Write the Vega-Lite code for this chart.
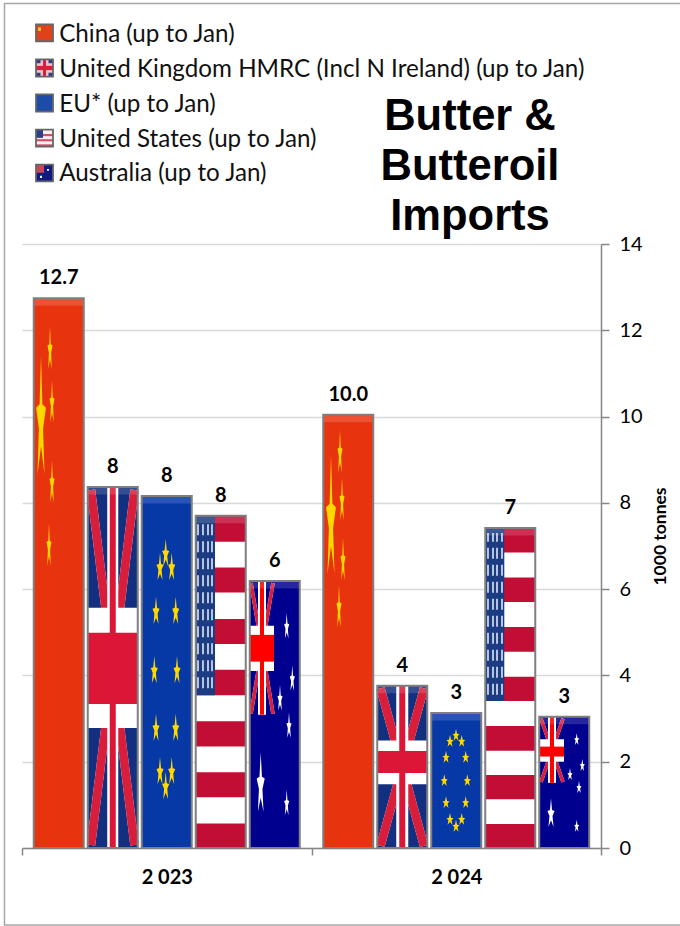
{
"$schema":"https://vega.github.io/schema/vega-lite/v6.json",
"width":579,"height":604,
"autosize":{"type":"none"},
"padding":{"left":22,"top":244,"right":79,"bottom":78},
"background":"white",
"config":{"font":"Lato","view":{"stroke":null}},
"title":{"text":["Butter &","Butteroil","Imports"],"font":"Liberation Sans","fontSize":43.5,"fontWeight":"bold","color":"black","lineHeight":50,"anchor":"start","frame":"group","align":"center","dx":448,"offset":-237},
"datasets":{
"bars":[
{"year":"2 023","country":"China (up to Jan)","value":12.74,"label":"12.7"},
{"year":"2 023","country":"United Kingdom HMRC (Incl N Ireland) (up to Jan)","value":8.37,"label":"8"},
{"year":"2 023","country":"EU* (up to Jan)","value":8.16,"label":"8"},
{"year":"2 023","country":"United States (up to Jan)","value":7.7,"label":"8"},
{"year":"2 023","country":"Australia (up to Jan)","value":6.19,"label":"6"},
{"year":"2 024","country":"China (up to Jan)","value":10.04,"label":"10.0"},
{"year":"2 024","country":"United Kingdom HMRC (Incl N Ireland) (up to Jan)","value":3.76,"label":"4"},
{"year":"2 024","country":"EU* (up to Jan)","value":3.13,"label":"3"},
{"year":"2 024","country":"United States (up to Jan)","value":7.42,"label":"7"},
{"year":"2 024","country":"Australia (up to Jan)","value":3.04,"label":"3"}
],
"frame":[{"p0":-0.175,"p1":6.6,"v0":19.575,"v1":-1.785}],
"miniFrames":[
{"p0":0.14,"p1":0.31,"v0":19.09,"v1":18.7},
{"p0":0.14,"p1":0.31,"v0":18.28,"v1":17.88},
{"p0":0.14,"p1":0.31,"v0":17.47,"v1":17.07},
{"p0":0.14,"p1":0.31,"v0":16.65,"v1":16.26},
{"p0":0.14,"p1":0.31,"v0":15.84,"v1":15.45}
],
"miniFlags":[
{"p0":0.14,"p1":0.31,"v0":19.09,"v1":18.7,"paint":"china"},
{"p0":0.16,"p1":0.19,"v0":19.02,"v1":18.94,"paint":"gold"},
{"p0":0.14,"p1":0.31,"v0":18.28,"v1":17.88,"paint":"ukPale"},
{"p0":0.14,"p1":0.185,"v0":18.28,"v1":18.19,"paint":"ukNavy"},
{"p0":0.265,"p1":0.31,"v0":18.28,"v1":18.19,"paint":"ukNavy"},
{"p0":0.14,"p1":0.185,"v0":17.97,"v1":17.88,"paint":"ukNavy"},
{"p0":0.265,"p1":0.31,"v0":17.97,"v1":17.88,"paint":"ukNavy"},
{"p0":0.14,"p1":0.31,"v0":18.13,"v1":18.03,"paint":"ukRed"},
{"p0":0.21,"p1":0.24,"v0":18.28,"v1":17.88,"paint":"ukRed"},
{"p0":0.14,"p1":0.31,"v0":17.47,"v1":17.07,"paint":"eu"},
{"p0":0.14,"p1":0.31,"v0":16.65,"v1":16.26,"paint":"white"},
{"p0":0.14,"p1":0.31,"v0":16.31,"v1":16.26,"paint":"usRed"},
{"p0":0.14,"p1":0.31,"v0":16.43,"v1":16.38,"paint":"usRed"},
{"p0":0.14,"p1":0.31,"v0":16.55,"v1":16.5,"paint":"usRed"},
{"p0":0.14,"p1":0.21,"v0":16.65,"v1":16.46,"paint":"ukNavy"},
{"p0":0.14,"p1":0.31,"v0":15.84,"v1":15.45,"paint":"auNavy"},
{"p0":0.14,"p1":0.22,"v0":15.84,"v1":15.65,"paint":"auPink"},
{"p0":0.25,"p1":0.27,"v0":15.74,"v1":15.7,"paint":"white"},
{"p0":0.18,"p1":0.2,"v0":15.58,"v1":15.53,"paint":"white"}
],
"stripes":[
{"p0":1.7375,"p1":2.2375,"v0":0.57,"v1":1.175,"paint":"white"},
{"p0":1.7375,"p1":2.2375,"v0":1.755,"v1":2.35,"paint":"white"},
{"p0":1.7375,"p1":2.2375,"v0":2.94,"v1":3.54,"paint":"white"},
{"p0":1.7375,"p1":2.2375,"v0":4.13,"v1":4.73,"paint":"white"},
{"p0":1.7375,"p1":2.2375,"v0":5.31,"v1":5.92,"paint":"white"},
{"p0":1.7375,"p1":2.2375,"v0":6.5,"v1":7.1,"paint":"white"},
{"p0":1.7375,"p1":1.93,"v0":3.54,"v1":7.7,"paint":"canton"},
{"p0":4.6325,"p1":5.1325,"v0":0.556,"v1":1.13,"paint":"white"},
{"p0":4.6325,"p1":5.1325,"v0":1.69,"v1":2.255,"paint":"white"},
{"p0":4.6325,"p1":5.1325,"v0":2.83,"v1":3.41,"paint":"white"},
{"p0":4.6325,"p1":5.1325,"v0":3.97,"v1":4.55,"paint":"white"},
{"p0":4.6325,"p1":5.1325,"v0":5.12,"v1":5.7,"paint":"white"},
{"p0":4.6325,"p1":5.1325,"v0":6.27,"v1":6.85,"paint":"white"},
{"p0":4.6325,"p1":4.823,"v0":3.41,"v1":7.42,"paint":"canton"}
],
"diagonals":[
{"p0":0.69,"p1":0.9075,"v0":8.3,"v1":4.18,"kind":"uk"},
{"p0":1.125,"p1":0.9075,"v0":8.3,"v1":4.18,"kind":"uk"},
{"p0":0.69,"p1":0.9075,"v0":0.07,"v1":4.18,"kind":"uk"},
{"p0":1.125,"p1":0.9075,"v0":0.07,"v1":4.18,"kind":"uk"},
{"p0":3.585,"p1":3.8025,"v0":3.7,"v1":1.88,"kind":"uk"},
{"p0":4.02,"p1":3.8025,"v0":3.7,"v1":1.88,"kind":"uk"},
{"p0":3.585,"p1":3.8025,"v0":0.05,"v1":1.88,"kind":"uk"},
{"p0":4.02,"p1":3.8025,"v0":0.05,"v1":1.88,"kind":"uk"},
{"p0":2.29,"p1":2.4,"v0":6.14,"v1":4.64,"kind":"au"},
{"p0":2.51,"p1":2.4,"v0":6.14,"v1":4.64,"kind":"au"},
{"p0":2.29,"p1":2.4,"v0":3.11,"v1":4.64,"kind":"au"},
{"p0":2.51,"p1":2.4,"v0":3.11,"v1":4.64,"kind":"au"},
{"p0":5.19,"p1":5.3,"v0":3.0,"v1":2.26,"kind":"au"},
{"p0":5.41,"p1":5.3,"v0":3.0,"v1":2.26,"kind":"au"},
{"p0":5.19,"p1":5.3,"v0":1.53,"v1":2.26,"kind":"au"},
{"p0":5.41,"p1":5.3,"v0":1.53,"v1":2.26,"kind":"au"}
],
"crosses":[
{"p0":0.8525,"p1":0.9625,"v0":0,"v1":8.37,"paint":"white"},
{"p0":0.6575,"p1":1.1575,"v0":2.78,"v1":5.57,"paint":"white"},
{"p0":0.8775,"p1":0.9375,"v0":0,"v1":8.37,"paint":"ukRed"},
{"p0":0.6575,"p1":1.1575,"v0":3.34,"v1":4.99,"paint":"ukRed"},
{"p0":3.7425,"p1":3.8625,"v0":0,"v1":3.76,"paint":"white"},
{"p0":3.5525,"p1":4.0525,"v0":1.48,"v1":2.49,"paint":"white"},
{"p0":3.7725,"p1":3.8325,"v0":0,"v1":3.76,"paint":"ukRed"},
{"p0":3.5525,"p1":4.0525,"v0":1.74,"v1":2.25,"paint":"ukRed"},
{"p0":2.36,"p1":2.44,"v0":3.09,"v1":6.19,"paint":"white"},
{"p0":2.2775,"p1":2.52,"v0":4.1,"v1":5.15,"paint":"white"},
{"p0":2.38,"p1":2.42,"v0":3.09,"v1":6.19,"paint":"auRed"},
{"p0":2.2775,"p1":2.52,"v0":4.32,"v1":4.94,"paint":"auRed"},
{"p0":5.26,"p1":5.34,"v0":1.51,"v1":3.04,"paint":"white"},
{"p0":5.1725,"p1":5.42,"v0":2.0,"v1":2.52,"paint":"white"},
{"p0":5.28,"p1":5.32,"v0":1.51,"v1":3.04,"paint":"auRed"},
{"p0":5.1725,"p1":5.42,"v0":2.12,"v1":2.35,"paint":"auRed"}
],
"usStars":[
{"p":1.76,"v0":3.7,"v1":7.6},{"p":1.81,"v0":3.7,"v1":7.6},{"p":1.86,"v0":3.7,"v1":7.6},{"p":1.9,"v0":3.7,"v1":7.6},
{"p":4.66,"v0":3.55,"v1":7.3},{"p":4.71,"v0":3.55,"v1":7.3},{"p":4.75,"v0":3.55,"v1":7.3},{"p":4.8,"v0":3.55,"v1":7.3}
],
"stars":[
{"p":0.19,"v":9.8,"star":"chinaBig","paint":"gold"},
{"p":0.28,"v":11.5,"star":"chinaSmall","paint":"gold"},
{"p":0.3,"v":10.27,"star":"chinaSmall","paint":"gold"},
{"p":0.3,"v":8.41,"star":"chinaSmall","paint":"gold"},
{"p":0.27,"v":6.95,"star":"chinaSmall","paint":"gold"},
{"p":3.09,"v":7.49,"star":"chinaBig","paint":"gold"},
{"p":3.18,"v":9.11,"star":"chinaSmall","paint":"gold"},
{"p":3.2,"v":8.0,"star":"chinaSmall","paint":"gold"},
{"p":3.21,"v":6.61,"star":"chinaSmall","paint":"gold"},
{"p":3.17,"v":5.52,"star":"chinaSmall","paint":"gold"},
{"p":1.437,"v":6.79,"star":"euTall","paint":"gold"},
{"p":1.38,"v":6.47,"star":"euTall","paint":"gold"},
{"p":1.497,"v":6.47,"star":"euTall","paint":"gold"},
{"p":1.34,"v":5.45,"star":"euTall","paint":"gold"},
{"p":1.537,"v":5.45,"star":"euTall","paint":"gold"},
{"p":1.323,"v":4.08,"star":"euTall","paint":"gold"},
{"p":1.55,"v":4.08,"star":"euTall","paint":"gold"},
{"p":1.34,"v":2.74,"star":"euTall","paint":"gold"},
{"p":1.537,"v":2.74,"star":"euTall","paint":"gold"},
{"p":1.38,"v":1.74,"star":"euTall","paint":"gold"},
{"p":1.497,"v":1.74,"star":"euTall","paint":"gold"},
{"p":1.437,"v":1.39,"star":"euTall","paint":"gold"},
{"p":4.34,"v":2.6,"star":"euShort","paint":"gold"},
{"p":4.28,"v":2.46,"star":"euShort","paint":"gold"},
{"p":4.397,"v":2.46,"star":"euShort","paint":"gold"},
{"p":4.24,"v":2.09,"star":"euShort","paint":"gold"},
{"p":4.437,"v":2.09,"star":"euShort","paint":"gold"},
{"p":4.223,"v":1.55,"star":"euShort","paint":"gold"},
{"p":4.453,"v":1.55,"star":"euShort","paint":"gold"},
{"p":4.24,"v":1.04,"star":"euShort","paint":"gold"},
{"p":4.437,"v":1.04,"star":"euShort","paint":"gold"},
{"p":4.28,"v":0.65,"star":"euShort","paint":"gold"},
{"p":4.397,"v":0.65,"star":"euShort","paint":"gold"},
{"p":4.34,"v":0.49,"star":"euShort","paint":"gold"},
{"p":2.387,"v":1.41,"star":"auBigTall","paint":"white"},
{"p":2.647,"v":5.1,"star":"auTall","paint":"white"},
{"p":2.703,"v":3.89,"star":"auTall","paint":"white"},
{"p":2.58,"v":3.43,"star":"auTall","paint":"white"},
{"p":2.67,"v":2.8,"star":"auTall","paint":"white"},
{"p":2.647,"v":1.0,"star":"auTall","paint":"white"},
{"p":5.29,"v":0.76,"star":"auBigShort","paint":"white"},
{"p":5.547,"v":2.5,"star":"auShort","paint":"white"},
{"p":5.603,"v":1.9,"star":"auShort","paint":"white"},
{"p":5.48,"v":1.69,"star":"auShort","paint":"white"},
{"p":5.57,"v":1.39,"star":"auShort","paint":"white"},
{"p":5.547,"v":0.49,"star":"auShort","paint":"white"}
]
},
"resolve":{"scale":{"x":"independent","color":"independent"},"axis":{"x":"independent","y":"independent"}},
"layer":[
{"data":{"name":"bars"},
 "mark":{"type":"bar"},
 "encoding":{
  "x":{"field":"year","type":"nominal","scale":{"paddingInner":0,"paddingOuter":0},"axis":{"title":null,"labelAngle":0,"labelFont":"Lato","labelFontSize":20,"labelFontWeight":"bold","labelColor":"black","labelPadding":12,"domainColor":"#868686","domainWidth":1.5,"tickColor":"#868686","tickSize":7,"tickWidth":1.5,"tickBand":"extent","grid":false}},
  "xOffset":{"field":"country","type":"nominal","sort":null,"scale":{"paddingInner":0.074,"paddingOuter":0.2175}},
  "y":{"field":"value","type":"quantitative","stack":null,"scale":{"domain":[0,14],"nice":false,"zero":false},"axis":{"orient":"right","values":[0,2,4,6,8,10,12,14],"title":"1000 tonnes","titleFont":"Lato","titleFontSize":17.5,"titleFontWeight":"bold","titleColor":"black","titleAngle":270,"titlePadding":27,"titleY":292,"labelFont":"Lato","labelFontSize":20,"labelColor":"black","labelPadding":10,"domainColor":"#868686","domainWidth":1.5,"tickColor":"#868686","tickSize":8,"tickWidth":1.5,"gridColor":"#d9d9d9","gridWidth":1.5,"grid":true}},
  "color":{"field":"country","type":"nominal","sort":null,"scale":{"domain":["China (up to Jan)","United Kingdom HMRC (Incl N Ireland) (up to Jan)","EU* (up to Jan)","United States (up to Jan)","Australia (up to Jan)"],"range":["#e8330f","#12307f","#0638a6","#c20e35","#00008e"]},"legend":{"title":null,"orient":"none","legendX":12,"legendY":-221,"symbolType":"square","symbolSize":289,"symbolOpacity":0,"labelFont":"Lato","labelFontSize":24.2,"labelColor":"#111111","labelLimit":600,"labelOffset":1,"rowPadding":9.8}}
 }},
{"data":{"name":"frame"},
 "mark":{"type":"rect","fillOpacity":0,"stroke":"#a6a6a6","strokeWidth":1.5},
 "encoding":{"x":{"field":"p0","type":"quantitative","scale":{"domain":[0,5.79],"nice":false,"zero":false},"axis":null},"x2":{"field":"p1"},"y":{"field":"v0","type":"quantitative","axis":null},"y2":{"field":"v1"}}},
{"data":{"name":"miniFlags"},
 "mark":{"type":"rect"},
 "encoding":{"x":{"field":"p0","type":"quantitative","scale":{"domain":[0,5.79],"nice":false,"zero":false},"axis":null},"x2":{"field":"p1"},"y":{"field":"v0","type":"quantitative","axis":null},"y2":{"field":"v1"},
  "color":{"field":"paint","type":"nominal","scale":{"domain":["china","gold","ukPale","ukNavy","ukRed","eu","white","usRed","auNavy","auPink"],"range":["#e0401c","#f7c51e","#eec3cc","#2a3f8c","#d81e3a","#1d4ba8","#f4f0f2","#d4506a","#101a80","#c9455c"]},"legend":null}}},
{"data":{"name":"miniFrames"},
 "mark":{"type":"rect","fillOpacity":0,"stroke":"#666666","strokeWidth":1.8},
 "encoding":{"x":{"field":"p0","type":"quantitative","scale":{"domain":[0,5.79],"nice":false,"zero":false},"axis":null},"x2":{"field":"p1"},"y":{"field":"v0","type":"quantitative","axis":null},"y2":{"field":"v1"}}},
{"data":{"name":"stripes"},
 "mark":{"type":"rect"},
 "encoding":{"x":{"field":"p0","type":"quantitative","scale":{"domain":[0,5.79],"nice":false,"zero":false},"axis":null},"x2":{"field":"p1"},"y":{"field":"v0","type":"quantitative","axis":null},"y2":{"field":"v1"},
  "color":{"field":"paint","type":"nominal","scale":{"domain":["white","canton"],"range":["#ffffff","#1b3c82"]},"legend":null}}},
{"data":{"name":"diagonals"},
 "mark":{"type":"rule","color":"white"},
 "encoding":{"x":{"field":"p0","type":"quantitative","scale":{"domain":[0,5.79],"nice":false,"zero":false},"axis":null},"x2":{"field":"p1"},"y":{"field":"v0","type":"quantitative","axis":null},"y2":{"field":"v1"},
  "strokeWidth":{"field":"kind","type":"ordinal","scale":{"type":"ordinal","domain":["uk","au"],"range":[8.5,3.5]},"legend":null}}},
{"data":{"name":"diagonals"},
 "mark":{"type":"rule","color":"#d81e3a"},
 "encoding":{"x":{"field":"p0","type":"quantitative","scale":{"domain":[0,5.79],"nice":false,"zero":false},"axis":null},"x2":{"field":"p1"},"y":{"field":"v0","type":"quantitative","axis":null},"y2":{"field":"v1"},
  "strokeWidth":{"field":"kind","type":"ordinal","scale":{"type":"ordinal","domain":["uk","au"],"range":[2.5,1.3]},"legend":null}}},
{"data":{"name":"crosses"},
 "mark":{"type":"rect"},
 "encoding":{"x":{"field":"p0","type":"quantitative","scale":{"domain":[0,5.79],"nice":false,"zero":false},"axis":null},"x2":{"field":"p1"},"y":{"field":"v0","type":"quantitative","axis":null},"y2":{"field":"v1"},
  "color":{"field":"paint","type":"nominal","scale":{"domain":["white","ukRed","auRed"],"range":["#ffffff","#dc1637","#ff0000"]},"legend":null}}},
{"data":{"name":"usStars"},
 "mark":{"type":"rule","color":"#dfe6f2","strokeWidth":1.6,"strokeDash":[11,6]},
 "encoding":{"x":{"field":"p","type":"quantitative","scale":{"domain":[0,5.79],"nice":false,"zero":false},"axis":null},"y":{"field":"v0","type":"quantitative","axis":null},"y2":{"field":"v1"}}},
{"data":{"name":"stars"},
 "mark":{"type":"point","filled":true,"opacity":1},
 "encoding":{"x":{"field":"p","type":"quantitative","scale":{"domain":[0,5.79],"nice":false,"zero":false},"axis":null},"y":{"field":"v","type":"quantitative","axis":null},
  "color":{"field":"paint","type":"nominal","scale":{"domain":["gold","white"],"range":["#ffd800","#ffffff"]},"legend":null},
  "shape":{"field":"star","type":"nominal","legend":null,"scale":{"domain":["chinaBig","chinaSmall","euTall","euShort","auBigTall","auTall","auBigShort","auShort"],"range":[
   "M0,-1L0.02,-0.3L0.07,-0.25L0.03,0.05L0.05,0.7L0,0.3L-0.05,0.7L-0.03,0.05L-0.07,-0.25L-0.02,-0.3Z",
   "M0,-1L0.03,-0.3L0.1,-0.25L0.045,0.05L0.07,0.7L0,0.3L-0.07,0.7L-0.045,0.05L-0.1,-0.25L-0.03,-0.3Z",
   "M0,-1L0.066,-0.3L0.22,-0.25L0.1,0.05L0.154,0.7L0,0.3L-0.154,0.7L-0.1,0.05L-0.22,-0.25L-0.066,-0.3Z",
   "M0,-1L0.15,-0.3L0.5,-0.25L0.225,0.05L0.35,0.7L0,0.3L-0.35,0.7L-0.225,0.05L-0.5,-0.25L-0.15,-0.3Z",
   "M0,-1L0.035,-0.3L0.115,-0.25L0.05,0.05L0.08,0.7L0,0.3L-0.08,0.7L-0.05,0.05L-0.115,-0.25L-0.035,-0.3Z",
   "M0,-1L0.05,-0.3L0.17,-0.25L0.08,0.05L0.12,0.7L0,0.3L-0.12,0.7L-0.08,0.05L-0.17,-0.25L-0.05,-0.3Z",
   "M0,-1L0.06,-0.3L0.21,-0.25L0.09,0.05L0.15,0.7L0,0.3L-0.15,0.7L-0.09,0.05L-0.21,-0.25L-0.06,-0.3Z",
   "M0,-1L0.11,-0.3L0.36,-0.25L0.16,0.05L0.25,0.7L0,0.3L-0.25,0.7L-0.16,0.05L-0.36,-0.25L-0.11,-0.3Z"
  ]}},
  "size":{"field":"star","type":"ordinal","legend":null,"scale":{"type":"ordinal","domain":["chinaBig","chinaSmall","euTall","euShort","auBigTall","auTall","auBigShort","auShort"],"range":[19600,2500,1024,196,4900,900,1156,196]}}
 }},
{"data":{"name":"bars"},
 "mark":{"type":"tick","color":"white","opacity":0.15,"thickness":7,"yOffset":4,"size":50},
 "encoding":{
  "x":{"field":"year","type":"nominal","scale":{"paddingInner":0,"paddingOuter":0},"axis":null},
  "xOffset":{"field":"country","type":"nominal","sort":null,"scale":{"paddingInner":0.074,"paddingOuter":0.2175}},
  "y":{"field":"value","type":"quantitative","axis":null}}},
{"data":{"name":"bars"},
 "mark":{"type":"bar","fillOpacity":0,"stroke":"#7f7f7f","strokeWidth":2},
 "encoding":{
  "x":{"field":"year","type":"nominal","scale":{"paddingInner":0,"paddingOuter":0},"axis":null},
  "xOffset":{"field":"country","type":"nominal","sort":null,"scale":{"paddingInner":0.074,"paddingOuter":0.2175}},
  "y":{"field":"value","type":"quantitative","stack":null,"axis":null}}},
{"data":{"name":"bars"},
 "mark":{"type":"text","font":"Lato","fontSize":20,"fontWeight":"bold","color":"black","dy":-20,"baseline":"middle"},
 "encoding":{
  "x":{"field":"year","type":"nominal","scale":{"paddingInner":0,"paddingOuter":0},"axis":null},
  "xOffset":{"field":"country","type":"nominal","sort":null,"scale":{"paddingInner":0.074,"paddingOuter":0.2175}},
  "y":{"field":"value","type":"quantitative","axis":null},
  "text":{"field":"label","type":"nominal"}}}
]
}
